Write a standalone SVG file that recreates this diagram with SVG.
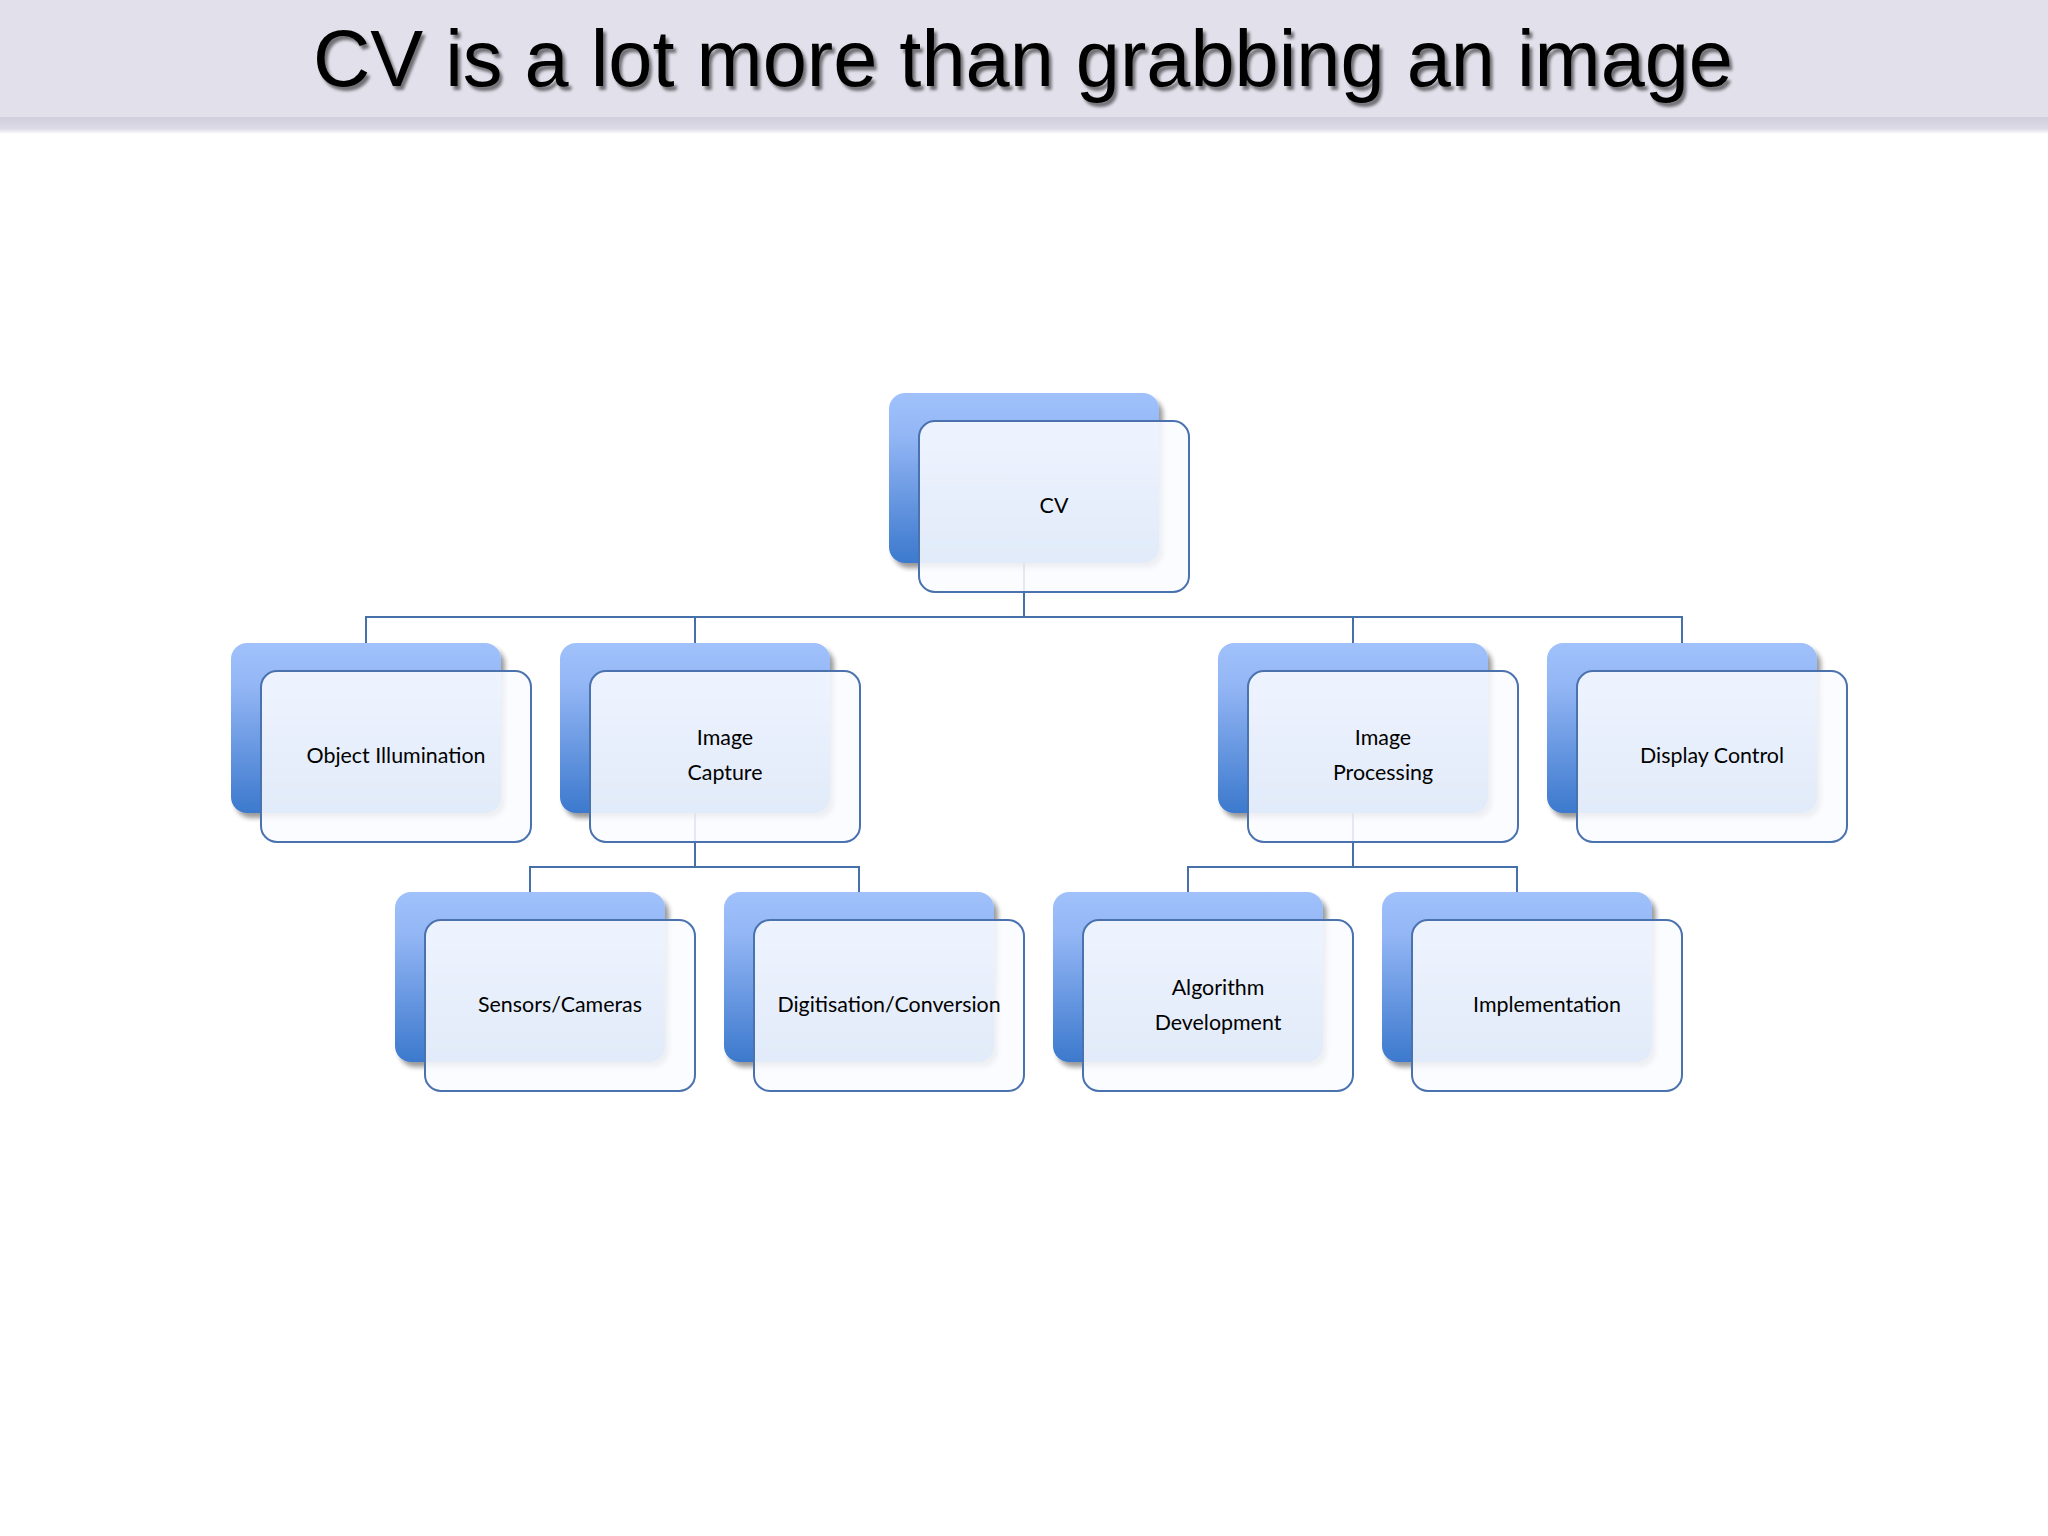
<svg xmlns="http://www.w3.org/2000/svg" width="2048" height="1536" viewBox="0 0 2048 1536">
  <defs>
    <style>
      .back { fill: url(#backGrad); filter: url(#shadow); }
      .front { fill: #FAFCFF; fill-opacity: 0.87; stroke: #4A72AE; stroke-width: 2; }
      .label { font-family: Lato, "Open Sans", "DejaVu Sans", sans-serif; font-size: 21.4px; fill: #000; text-anchor: middle; }
      .conn { fill: none; stroke: #4670AA; stroke-width: 2; }
      .title { font-family: "Liberation Sans", Arial, sans-serif; font-size: 80px; fill: #000; filter: url(#titleShadow); }
    </style>
    <linearGradient id="backGrad" x1="0" y1="0" x2="0" y2="1">
      <stop offset="0" stop-color="#A0C1FB"/>
      <stop offset="0.25" stop-color="#93B6F5"/>
      <stop offset="1" stop-color="#3C79CD"/>
    </linearGradient>
    <linearGradient id="bandGrad" x1="0" y1="0" x2="0" y2="1">
      <stop offset="0" stop-color="#D2CFDD"/>
      <stop offset="0.7" stop-color="#DDDBE6"/>
      <stop offset="1" stop-color="#FFFFFF"/>
    </linearGradient>
    <filter id="shadow" x="-10%" y="-10%" width="130%" height="130%">
      <feGaussianBlur in="SourceAlpha" stdDeviation="2.5"/>
      <feOffset dx="4" dy="5" result="off"/>
      <feComponentTransfer in="off" result="sh"><feFuncA type="linear" slope="0.4"/></feComponentTransfer>
      <feMerge><feMergeNode in="sh"/><feMergeNode in="SourceGraphic"/></feMerge>
    </filter>
    <filter id="titleShadow" x="-5%" y="-20%" width="110%" height="150%">
      <feGaussianBlur in="SourceAlpha" stdDeviation="1.8"/>
      <feOffset dx="3" dy="4" result="off"/>
      <feComponentTransfer in="off" result="sh"><feFuncA type="linear" slope="0.5"/></feComponentTransfer>
      <feMerge><feMergeNode in="sh"/><feMergeNode in="SourceGraphic"/></feMerge>
    </filter>
  </defs>

  <rect x="0" y="0" width="2048" height="1536" fill="#FFFFFF"/>
  <g id="header">
    <rect x="0" y="0" width="2048" height="117" fill="#E2E0EA"/>
    <rect x="0" y="117" width="2048" height="17" fill="url(#bandGrad)"/>
    <text class="title" x="313" y="86" textLength="1420" lengthAdjust="spacingAndGlyphs">CV is a lot more than grabbing an image</text>
  </g>

  <g id="connectors">
    <path class="conn" d="M1024 563 V617 M366 643 V617 H1682 V643 M695 617 V643 M1353 617 V643"/>
    <path class="conn" d="M695 813 V867 M530 892 V867 H859 V892"/>
    <path class="conn" d="M1353 813 V867 M1188 892 V867 H1517 V892"/>
  </g>

  <g id="node-cv">
    <rect class="back" x="889" y="393" width="270" height="170" rx="16"/>
    <rect class="front" x="919" y="421" width="270" height="171" rx="16"/>
    <text class="label" x="1054" y="513">CV</text>
  </g>

  <g id="node-object-illumination">
    <rect class="back" x="231" y="643" width="270" height="170" rx="16"/>
    <rect class="front" x="261" y="671" width="270" height="171" rx="16"/>
    <text class="label" x="396" y="763">Object Illumination</text>
  </g>

  <g id="node-image-capture">
    <rect class="back" x="560" y="643" width="270" height="170" rx="16"/>
    <rect class="front" x="590" y="671" width="270" height="171" rx="16"/>
    <text class="label" x="725" y="745">Image</text>
    <text class="label" x="725" y="780">Capture</text>
  </g>

  <g id="node-image-processing">
    <rect class="back" x="1218" y="643" width="270" height="170" rx="16"/>
    <rect class="front" x="1248" y="671" width="270" height="171" rx="16"/>
    <text class="label" x="1383" y="745">Image</text>
    <text class="label" x="1383" y="780">Processing</text>
  </g>

  <g id="node-display-control">
    <rect class="back" x="1547" y="643" width="270" height="170" rx="16"/>
    <rect class="front" x="1577" y="671" width="270" height="171" rx="16"/>
    <text class="label" x="1712" y="763">Display Control</text>
  </g>

  <g id="node-sensors-cameras">
    <rect class="back" x="395" y="892" width="270" height="170" rx="16"/>
    <rect class="front" x="425" y="920" width="270" height="171" rx="16"/>
    <text class="label" x="560" y="1012">Sensors/Cameras</text>
  </g>

  <g id="node-digitisation-conversion">
    <rect class="back" x="724" y="892" width="270" height="170" rx="16"/>
    <rect class="front" x="754" y="920" width="270" height="171" rx="16"/>
    <text class="label" x="889" y="1012">Digitisation/Conversion</text>
  </g>

  <g id="node-algorithm-development">
    <rect class="back" x="1053" y="892" width="270" height="170" rx="16"/>
    <rect class="front" x="1083" y="920" width="270" height="171" rx="16"/>
    <text class="label" x="1218" y="995">Algorithm</text>
    <text class="label" x="1218" y="1030">Development</text>
  </g>

  <g id="node-implementation">
    <rect class="back" x="1382" y="892" width="270" height="170" rx="16"/>
    <rect class="front" x="1412" y="920" width="270" height="171" rx="16"/>
    <text class="label" x="1547" y="1012">Implementation</text>
  </g>
</svg>
